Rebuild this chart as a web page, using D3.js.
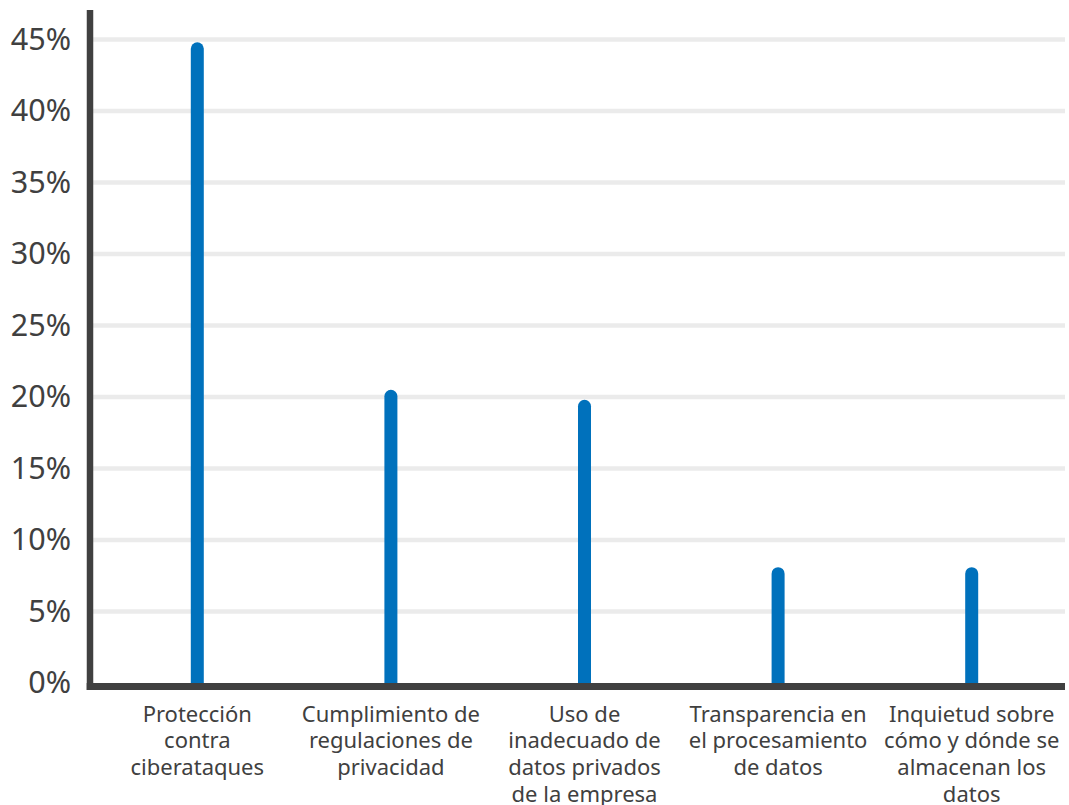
<!DOCTYPE html>
<html>
<head>
<meta charset="utf-8">
<script src="https://cdn.jsdelivr.net/npm/d3@7"></script>
<style>
  html, body { margin: 0; padding: 0; background: #fff; }
  svg { display: block; font-family: "Noto Sans", "Open Sans", sans-serif; }
</style>
</head>
<body>
<svg id="chart" width="1069" height="805"></svg>
<script>
// Category names (line breaks as they appear under each bar)
const categories = [
  "Protección\ncontra\nciberataques",
  "Cumplimiento de\nregulaciones de\nprivacidad",
  "Uso de\ninadecuado de\ndatos privados\nde la empresa",
  "Transparencia en\nel procesamiento\nde datos",
  "Inquietud sobre\ncómo y dónde se\nalmacenan los\ndatos"
];
// Share of respondents, in percent
const values = [44.8, 20.5, 19.8, 8.1, 8.1];
// Y axis ticks, in percent
const yTicks = [0, 5, 10, 15, 20, 25, 30, 35, 40, 45];

const svg = d3.select("#chart");
const axisColor = "#404040";
const barColor = "#0071bc";
const gridColor = "#ebebeb";

const y = d3.scaleLinear().domain([0, 45]).range([683, 39.5]);
const x = d3.scaleBand().domain(categories).range([100.5, 1068.5]);

const axisX = 90;
const plotRight = 1065;

// horizontal gridlines
svg.append("g")
  .selectAll("line")
  .data(yTicks.filter(t => t > 0))
  .join("line")
  .attr("x1", axisX + 3)
  .attr("x2", plotRight)
  .attr("y1", d => y(d))
  .attr("y2", d => y(d))
  .attr("stroke", gridColor)
  .attr("stroke-width", 4.5);

// tick labels
svg.append("g")
  .selectAll("text")
  .data(yTicks)
  .join("text")
  .attr("x", 71)
  .attr("y", d => y(d))
  .attr("dy", "0.34em")
  .attr("text-anchor", "end")
  .attr("font-size", 30.5)
  .attr("fill", axisColor)
  .text(d => d + "%");

// bars: thin columns with a rounded top
const barW = 13;
const r = barW / 2;
svg.append("g")
  .selectAll("path")
  .data(values.map((v, i) => ({ v, c: categories[i] })))
  .join("path")
  .attr("fill", barColor)
  .attr("d", d => {
    const cx = x(d.c) + x.bandwidth() / 2;
    const x0 = cx - r, x1 = cx + r;
    const top = y(d.v), base = y(0) + 2;
    return `M${x0},${base}L${x0},${top + r}A${r},${r} 0 0 1 ${x1},${top + r}L${x1},${base}Z`;
  });

// axis lines
svg.append("line")
  .attr("x1", axisX).attr("x2", axisX)
  .attr("y1", 10).attr("y2", 690)
  .attr("stroke", axisColor).attr("stroke-width", 6.5);
svg.append("line")
  .attr("x1", axisX - 3.3).attr("x2", plotRight)
  .attr("y1", 686.5).attr("y2", 686.5)
  .attr("stroke", axisColor).attr("stroke-width", 7);

// category labels
const labelTop = 721.7;
const lineH = 26.7;
const labels = svg.append("g")
  .selectAll("text")
  .data(categories)
  .join("text")
  .attr("text-anchor", "middle")
  .attr("font-size", 22)
  .attr("fill", axisColor)
  .attr("x", d => x(d) + x.bandwidth() / 2)
  .attr("y", labelTop);
labels.each(function (d) {
  const t = d3.select(this);
  d.split("\n").forEach((line, i) => {
    t.append("tspan")
      .attr("x", x(d) + x.bandwidth() / 2)
      .attr("y", labelTop + i * lineH)
      .text(line);
  });
});
</script>
</body>
</html>
